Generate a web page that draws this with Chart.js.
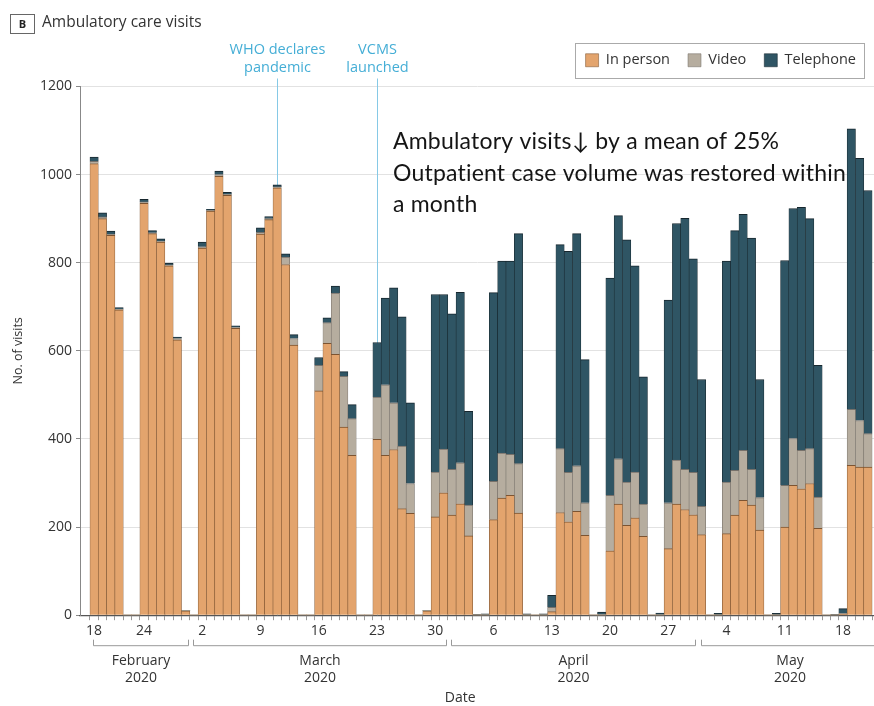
<!DOCTYPE html>
<html>
<head>
<meta charset="utf-8">
<script src="https://cdn.jsdelivr.net/npm/chart.js@4.4.0/dist/chart.umd.min.js"></script>
<style>
  html, body { margin: 0; padding: 0; background: #fff; overflow: hidden; }
</style>
</head>
<body>
<canvas id="grafica" width="874" height="706"></canvas>
<script>
// Un valor por dia, desde el 18 de febrero 2020 (indice 0) hasta el 21 de mayo 2020 (indice 93)
const presencial = [
  1025, 900, 862, 693, 0, 0, 935, 866, 847, 793, 625, 10, 0,
  833, 917, 996, 953, 651, 0, 0, 865, 898, 970, 796, 613, 0, 0,
  509, 617, 592, 427, 363, 0, 0, 399, 363, 376, 242, 231, 0, 10,
  223, 278, 227, 253, 180, 0, 0, 217, 266, 272, 232, 0, 0, 0,
  8, 233, 212, 236, 181, 0, 0, 146, 252, 204, 221, 179, 0, 0,
  151, 252, 240, 228, 183, 0, 0, 185, 227, 261, 250, 193, 0, 0,
  200, 295, 287, 299, 197, 0, 0, 2, 340, 336, 336
];
const video = [
  5, 4, 3, 2, 0, 0, 3, 2, 2, 2, 3, 0, 0,
  3, 2, 4, 2, 2, 0, 0, 4, 2, 2, 17, 15, 0, 0,
  58, 47, 139, 115, 83, 0, 0, 96, 160, 106, 142, 68, 0, 0,
  102, 99, 104, 93, 70, 0, 0, 87, 102, 93, 112, 0, 0, 0,
  10, 145, 112, 103, 74, 0, 0, 126, 103, 98, 104, 73, 0, 0,
  104, 100, 91, 96, 64, 0, 0, 117, 102, 113, 81, 74, 0, 0,
  95, 106, 87, 79, 71, 0, 0, 2, 127, 106, 76
];
const telefono = [
  10, 9, 7, 3, 0, 0, 6, 5, 5, 4, 3, 0, 0,
  11, 2, 8, 5, 4, 0, 0, 10, 5, 5, 7, 9, 0, 0,
  18, 11, 16, 11, 32, 0, 0, 124, 197, 261, 293, 183, 0, 0,
  403, 351, 353, 387, 213, 2, 3, 428, 436, 439, 522, 3, 0, 3,
  27, 463, 502, 527, 325, 0, 7, 493, 552, 550, 468, 289, 0, 5,
  460, 537, 570, 485, 288, 0, 4, 502, 544, 536, 525, 268, 0, 4,
  510, 522, 552, 522, 299, 0, 2, 11, 637, 595, 552
];
const dias = presencial.map((_, i) => i);

// Marcas del eje x (indice del dia y su etiqueta)
const marcasX = [0, 6, 13, 20, 27, 34, 41, 48, 55, 62, 69, 76, 83, 90];
const etiquetasX = ['18', '24', '2', '9', '16', '23', '30', '6', '13', '20', '27', '4', '11', '18'];

// Meses bajo el eje (primer y ultimo dia de cada uno)
const meses = [
  { nombre: 'February', desde: 0, hasta: 11 },
  { nombre: 'March', desde: 12, hasta: 42 },
  { nombre: 'April', desde: 43, hasta: 72 },
  { nombre: 'May', desde: 73, hasta: 94 }
];

// Eventos marcados con linea vertical
const eventos = [
  { dia: 22, texto: ['WHO declares', 'pandemic'] },
  { dia: 34, texto: ['VCMS', 'launched'] }
];

const nota = [
  'Ambulatory visits\u2193 by a mean of 25%',
  'Outpatient case volume was restored within',
  'a month'
];

const letra = "'Open Sans', sans-serif";
Chart.defaults.font.family = letra;
Chart.defaults.color = '#333';

const grafica = document.getElementById('grafica');

// borde fino solo si el tramo tiene valor
const borde = (c) => c.raw > 0 ? { top: 1, left: 0.6, right: 0.6, bottom: 0 } : 0;

const decoraciones = {
  id: 'decoraciones',
  beforeLayout(chart) {
    // separa un poco la leyenda del area del grafico
    const ley = chart.legend;
    if (ley && !ley._ajustada) {
      const fit = ley.fit;
      ley.fit = function () { fit.call(this); this.height += 9; };
      ley._ajustada = true;
    }
  },
  beforeDatasetsDraw(chart) {
    const { ctx, chartArea, scales: { x } } = chart;
    ctx.save();
    eventos.forEach(ev => {
      const px = Math.round(x.getPixelForValue(ev.dia)) + 0.5;
      ctx.strokeStyle = '#86c9e6';
      ctx.lineWidth = 1;
      ctx.beginPath();
      ctx.moveTo(px, chartArea.top - 8);
      ctx.lineTo(px, chartArea.bottom);
      ctx.stroke();
      ctx.fillStyle = '#45aed6';
      ctx.font = "14.5px 'Open Sans'";
      ctx.textAlign = 'center';
      ctx.textBaseline = 'middle';
      ev.texto.forEach((t, k) => ctx.fillText(t, px, 50 + k * 18));
    });
    ctx.restore();
  },
  afterDraw(chart) {
    const { ctx, chartArea, scales: { x } } = chart;
    ctx.save();

    // recuadro "B" y titulo
    ctx.strokeStyle = '#666';
    ctx.lineWidth = 1;
    ctx.strokeRect(10.5, 14.5, 24, 19);
    ctx.fillStyle = '#222';
    ctx.font = "bold 11px 'Open Sans'";
    ctx.textAlign = 'center';
    ctx.textBaseline = 'middle';
    ctx.fillText('B', 22.5, 24.5);
    ctx.font = "15.5px 'Open Sans'";
    ctx.textAlign = 'left';
    ctx.fillStyle = '#333';
    ctx.fillText('Ambulatory care visits', 42, 23);

    // marco de la leyenda
    const cajas = chart.legend.legendHitBoxes;
    if (cajas && cajas.length) {
      const izq = Math.min(...cajas.map(b => b.left));
      const der = Math.max(...cajas.map(b => b.left + b.width));
      const arr = Math.min(...cajas.map(b => b.top));
      const abj = Math.max(...cajas.map(b => b.top + b.height));
      ctx.strokeStyle = '#aaa';
      ctx.strokeRect(Math.round(izq - 11) + 0.5, Math.round(arr - 10) + 0.5,
        Math.round(der - izq + 19), Math.round(abj - arr + 20));
    }

    // nota grande
    ctx.fillStyle = '#151515';
    ctx.font = "23px Lato";
    ctx.letterSpacing = '0.2px';
    ctx.textAlign = 'left';
    ctx.textBaseline = 'alphabetic';
    nota.forEach((t, k) => ctx.fillText(t, 393, 149 + k * 31.5));
    ctx.letterSpacing = '0px';

    // llaves de los meses
    const yLinea = chartArea.bottom + 30.5;
    ctx.strokeStyle = '#999';
    ctx.lineWidth = 1;
    ctx.fillStyle = '#333';
    ctx.font = "14px 'Open Sans'";
    ctx.textAlign = 'center';
    ctx.textBaseline = 'middle';
    meses.forEach(m => {
      const a = Math.round(x.getPixelForValue(m.desde) - 1) + 0.5;
      const b = Math.round(x.getPixelForValue(m.hasta) + 2) + 0.5;
      ctx.beginPath();
      ctx.moveTo(a, yLinea - 6);
      ctx.lineTo(a, yLinea);
      ctx.lineTo(b, yLinea);
      ctx.lineTo(b, yLinea - 6);
      ctx.stroke();
      const c = (a + b) / 2;
      ctx.fillText(m.nombre, c, chartArea.bottom + 46);
      ctx.fillText('2020', c, chartArea.bottom + 63);
    });

    ctx.fillText('Date', x.getPixelForValue(44), chartArea.bottom + 83);
    ctx.restore();
  }
};

new Chart(grafica, {
  type: 'bar',
  data: {
    labels: dias,
    datasets: [
      { label: 'In person', data: presencial, backgroundColor: '#E3A46D', borderColor: '#7d5431', borderWidth: borde, stack: 'visitas' },
      { label: 'Video', data: video, backgroundColor: '#B6AD9F', borderColor: '#77716a', borderWidth: borde, stack: 'visitas' },
      { label: 'Telephone', data: telefono, backgroundColor: '#2F5564', borderColor: '#17272e', borderWidth: borde, stack: 'visitas' }
    ]
  },
  options: {
    responsive: false,
    animation: false,
    layout: { padding: { top: 35, right: 0, bottom: 65, left: 0 } },
    datasets: { bar: { categoryPercentage: 1, barPercentage: 1 } },
    plugins: {
      legend: {
        position: 'top',
        align: 'end',
        labels: { boxWidth: 13, boxHeight: 13, padding: 18, color: '#333', font: { size: 14.5 } }
      },
      tooltip: { enabled: false }
    },
    scales: {
      x: {
        type: 'linear',
        min: -1.19,
        max: 93.22,
        z: 1,
        afterBuildTicks: (s) => { s.ticks = dias.map(v => ({ value: v })); },
        ticks: {
          autoSkip: false,
          maxRotation: 0,
          padding: 2,
          color: '#333',
          font: { size: 14 },
          callback: (v) => {
            const k = marcasX.indexOf(v);
            return k >= 0 ? etiquetasX[k] : '';
          }
        },
        grid: { drawOnChartArea: false, tickLength: 5, tickColor: '#999' },
        border: { color: '#555', width: 1.2 }
      },
      y: {
        stacked: true,
        min: 0,
        max: 1200,
        afterFit: (s) => { s.width = 80; },
        ticks: { stepSize: 200, padding: 4, color: '#333', font: { size: 14 }, callback: (v) => String(v) },
        grid: { color: '#e2e2e2', tickColor: '#888', tickLength: 4 },
        border: { color: '#888' },
        title: { display: true, text: 'No. of visits', color: '#333', font: { size: 12.5 }, padding: { top: 11, bottom: 0 } }
      }
    }
  },
  plugins: [decoraciones]
});
</script>
</body>
</html>
